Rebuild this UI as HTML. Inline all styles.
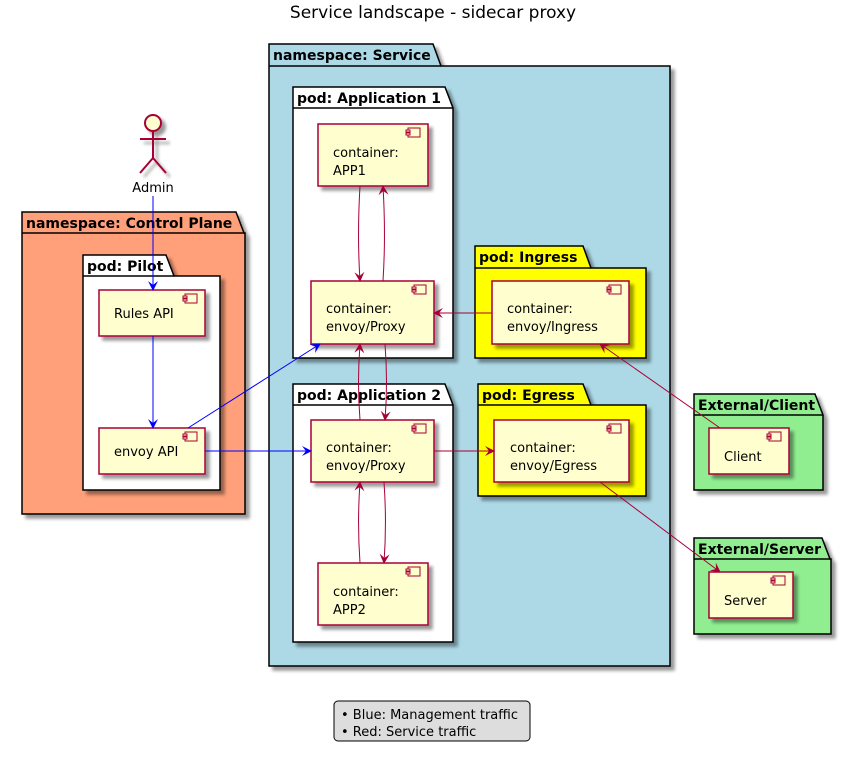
<!DOCTYPE html>
<html><head><meta charset="utf-8"><style>
html,body{margin:0;padding:0;background:#fff;}
svg text{font-family:"DejaVu Sans","Liberation Sans",sans-serif;}
</style></head><body>
<svg width="853" height="754" viewBox="0 0 853 754" xmlns="http://www.w3.org/2000/svg">
<defs>
<filter id="sh" x="-10%" y="-10%" width="130%" height="130%"><feGaussianBlur in="SourceAlpha" stdDeviation="1.5"/><feOffset dx="4" dy="4"/><feComponentTransfer><feFuncA type="linear" slope="0.4"/></feComponentTransfer><feMerge><feMergeNode/><feMergeNode in="SourceGraphic"/></feMerge></filter>
<marker id="ar" viewBox="0 0 10 10" refX="9" refY="5" markerWidth="10" markerHeight="10" orient="auto" markerUnits="userSpaceOnUse"><path d="M0,0 L10,5 L0,10 L4,5 Z" fill="#A80036"/></marker>
<marker id="ab" viewBox="0 0 10 10" refX="9" refY="5" markerWidth="10" markerHeight="10" orient="auto" markerUnits="userSpaceOnUse"><path d="M0,0 L10,5 L0,10 L4,5 Z" fill="#0000FF"/></marker>
</defs>
<text x="433" y="18" font-size="17" text-anchor="middle">Service landscape - sidecar proxy</text>

<g stroke="#000" stroke-width="1.5" font-weight="bold" font-size="14">
<path d="M269,44 L433,44 L441,66 L670,66 L670,666 L269,666 Z" fill="#ADD8E6" filter="url(#sh)"/>
<line x1="269" y1="66" x2="441" y2="66"/>
<path d="M22,212 L236,212 L244,233 L245,233 L245,514 L22,514 Z" fill="#FFA07A" filter="url(#sh)"/>
<line x1="22" y1="233" x2="244" y2="233"/>
<path d="M83,255 L166,255 L174,276 L220,276 L220,490 L83,490 Z" fill="#fff" filter="url(#sh)"/>
<line x1="83" y1="276" x2="174" y2="276"/>
<path d="M293,87 L445,87 L453,108 L453,358 L293,358 Z" fill="#fff" filter="url(#sh)"/>
<line x1="293" y1="108" x2="453" y2="108"/>
<path d="M475,246 L583,246 L591,268 L646,268 L646,358 L475,358 Z" fill="#FFFF00" filter="url(#sh)"/>
<line x1="475" y1="268" x2="591" y2="268"/>
<path d="M293,384 L445,384 L453,405 L453,642 L293,642 Z" fill="#fff" filter="url(#sh)"/>
<line x1="293" y1="405" x2="453" y2="405"/>
<path d="M478,384 L583,384 L591,405 L646,405 L646,496 L478,496 Z" fill="#FFFF00" filter="url(#sh)"/>
<line x1="478" y1="405" x2="591" y2="405"/>
<path d="M694,394 L815,394 L823,415 L823,490 L694,490 Z" fill="#90EE90" filter="url(#sh)"/>
<line x1="694" y1="415" x2="823" y2="415"/>
<path d="M694,538 L822,538 L830,559 L831,559 L831,634 L694,634 Z" fill="#90EE90" filter="url(#sh)"/>
<line x1="694" y1="559" x2="830" y2="559"/>
</g>
<g font-weight="bold" font-size="14" fill="#000">
<text x="273" y="60">namespace: Service</text>
<text x="26" y="228">namespace: Control Plane</text>
<text x="87" y="271">pod: Pilot</text>
<text x="297" y="103">pod: Application 1</text>
<text x="479" y="262">pod: Ingress</text>
<text x="297" y="400">pod: Application 2</text>
<text x="482" y="400">pod: Egress</text>
<text x="698" y="410">External/Client</text>
<text x="698" y="554">External/Server</text>
</g>

<g stroke="#A80036" stroke-width="1.5" fill="#FEFECE">
<rect x="318" y="124" width="110" height="62" filter="url(#sh)"/>
<rect x="311" y="281" width="123" height="63" filter="url(#sh)"/>
<rect x="492" y="281" width="137" height="63" filter="url(#sh)"/>
<rect x="99" y="290" width="106" height="46" filter="url(#sh)"/>
<rect x="99" y="428" width="106" height="46" filter="url(#sh)"/>
<rect x="311" y="420" width="123" height="62" filter="url(#sh)"/>
<rect x="494" y="420" width="135" height="62" filter="url(#sh)"/>
<rect x="318" y="563" width="110" height="62" filter="url(#sh)"/>
<rect x="709" y="428" width="80" height="46" filter="url(#sh)"/>
<rect x="709" y="572" width="84" height="46" filter="url(#sh)"/>
</g>
<g stroke="#A80036" stroke-width="1" fill="#FEFECE">
<g transform="translate(408,128)"><rect x="0" y="0" width="12" height="9"/><rect x="-2" y="2" width="4" height="2"/><rect x="-2" y="5" width="4" height="2"/></g>
<g transform="translate(414,285)"><rect x="0" y="0" width="12" height="9"/><rect x="-2" y="2" width="4" height="2"/><rect x="-2" y="5" width="4" height="2"/></g>
<g transform="translate(609,285)"><rect x="0" y="0" width="12" height="9"/><rect x="-2" y="2" width="4" height="2"/><rect x="-2" y="5" width="4" height="2"/></g>
<g transform="translate(185,294)"><rect x="0" y="0" width="12" height="9"/><rect x="-2" y="2" width="4" height="2"/><rect x="-2" y="5" width="4" height="2"/></g>
<g transform="translate(185,432)"><rect x="0" y="0" width="12" height="9"/><rect x="-2" y="2" width="4" height="2"/><rect x="-2" y="5" width="4" height="2"/></g>
<g transform="translate(414,424)"><rect x="0" y="0" width="12" height="9"/><rect x="-2" y="2" width="4" height="2"/><rect x="-2" y="5" width="4" height="2"/></g>
<g transform="translate(609,424)"><rect x="0" y="0" width="12" height="9"/><rect x="-2" y="2" width="4" height="2"/><rect x="-2" y="5" width="4" height="2"/></g>
<g transform="translate(408,567)"><rect x="0" y="0" width="12" height="9"/><rect x="-2" y="2" width="4" height="2"/><rect x="-2" y="5" width="4" height="2"/></g>
<g transform="translate(769,432)"><rect x="0" y="0" width="12" height="9"/><rect x="-2" y="2" width="4" height="2"/><rect x="-2" y="5" width="4" height="2"/></g>
<g transform="translate(773,576)"><rect x="0" y="0" width="12" height="9"/><rect x="-2" y="2" width="4" height="2"/><rect x="-2" y="5" width="4" height="2"/></g>
</g>
<g font-size="13" fill="#000">
<text x="333" y="157">container:</text><text x="333" y="175">APP1</text>
<text x="326" y="313">container:</text><text x="326" y="331">envoy/Proxy</text>
<text x="507" y="313">container:</text><text x="507" y="331">envoy/Ingress</text>
<text x="114" y="318">Rules API</text>
<text x="114" y="456">envoy API</text>
<text x="326" y="452">container:</text><text x="326" y="470">envoy/Proxy</text>
<text x="510" y="452">container:</text><text x="510" y="470">envoy/Egress</text>
<text x="333" y="596">container:</text><text x="333" y="614">APP2</text>
<text x="724" y="461">Client</text>
<text x="724" y="605">Server</text>
</g>

<g stroke="#A80036" stroke-width="2" fill="#FEFECE" filter="url(#sh)">
<circle cx="153" cy="123" r="8"/>
<line x1="153" y1="131" x2="153" y2="158"/>
<line x1="140" y1="139" x2="166" y2="139"/>
<line x1="153" y1="158" x2="140" y2="173"/>
<line x1="153" y1="158" x2="166" y2="173"/>
</g>
<text x="153" y="192" font-size="13" text-anchor="middle">Admin</text>

<g stroke="#0000FF" stroke-width="1" fill="none" marker-end="url(#ab)">
<line x1="153" y1="196" x2="153" y2="290"/>
<line x1="153" y1="336" x2="153" y2="428"/>
<line x1="188" y1="428" x2="320" y2="344"/>
<line x1="205" y1="451" x2="311" y2="451"/>
</g>
<g stroke="#A80036" stroke-width="1" fill="none" marker-end="url(#ar)">
<path d="M360,186 C358,220 358,250 360,281"/>
<path d="M383,281 C385,250 385,220 383,186"/>
<line x1="492" y1="313" x2="434" y2="313"/>
<path d="M385,344 C387,370 387,395 385,420"/>
<path d="M360,420 C358,395 358,370 360,344"/>
<line x1="434" y1="451" x2="494" y2="451"/>
<path d="M360,563 C358,535 358,510 360,482"/>
<path d="M384,482 C386,510 386,535 384,563"/>
<line x1="720" y1="428" x2="600" y2="344"/>
<line x1="600" y1="482" x2="720" y2="572"/>
</g>

<rect x="334" y="701" width="196" height="40" rx="4" fill="#DDDDDD" stroke="#000" stroke-width="1"/>
<g font-size="13">
<text x="341" y="719">• Blue: Management traffic</text>
<text x="341" y="736">• Red: Service traffic</text>
</g>
</svg>
</body></html>
